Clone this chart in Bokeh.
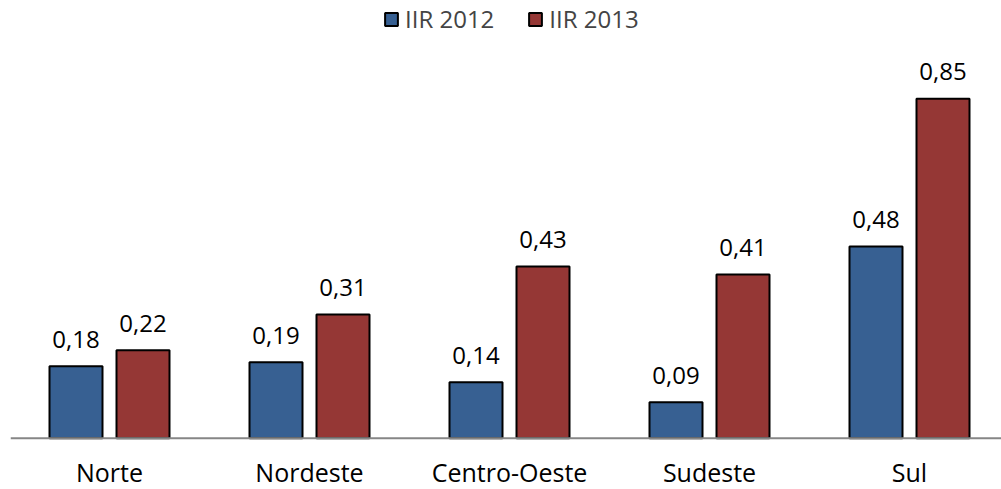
from bokeh.plotting import figure
from bokeh.models import Range1d, Legend, LegendItem, ColumnDataSource, Span
from bokeh.core.properties import value
from bokeh.embed import file_html
from bokeh.resources import INLINE

categories = ["Norte", "Nordeste", "Centro-Oeste", "Sudeste", "Sul"]
iir_2012 = [0.18, 0.19, 0.14, 0.09, 0.48]
iir_2013 = [0.22, 0.31, 0.43, 0.41, 0.85]
series_names = ["IIR 2012", "IIR 2013"]
colors = ["#376092", "#953735"]

FONT = "Open Sans"
offset = 0.1675
bar_w = 0.265

p = figure(width=1001, height=489, output_backend="svg", toolbar_location=None,
           x_range=Range1d(-0.495, 4.46), y_range=Range1d(-0.1285, 1.0962),
           min_border_left=10, min_border_right=0, min_border_top=0, min_border_bottom=0)
p.outline_line_color = None
p.grid.visible = False
p.axis.visible = False
p.background_fill_color = "white"

xs = list(range(len(categories)))

# baseline (category axis line)
p.add_layout(Span(location=0, dimension="width", line_color="#868686", line_width=2))

renderers = []
for vals, off, col in [(iir_2012, -offset, colors[0]), (iir_2013, offset, colors[1])]:
    src = ColumnDataSource(dict(x=[x + off for x in xs], top=vals,
                                lbl=[f"{v:.2f}".replace(".", ",") for v in vals]))
    r = p.vbar(x="x", top="top", bottom=0, width=bar_w, source=src,
               fill_color=col, line_color="black", line_width=2)
    renderers.append(r)
    p.text(x="x", y="top", text="lbl", source=src, text_align="center",
           text_baseline="alphabetic", y_offset=-27, text_font=value(FONT),
           text_font_size="24px", text_color="black")

cat_src = ColumnDataSource(dict(x=xs, y=[0] * len(xs), name=categories))
p.text(x="x", y="y", text="name", source=cat_src, text_align="center",
       text_baseline="middle", y_offset=34, text_font=value(FONT),
       text_font_size="25px", text_color="black")

legend = Legend(items=[LegendItem(label=series_names[i], renderers=[renderers[i]]) for i in range(2)],
                orientation="horizontal", location=(373, 454),
                glyph_width=16, glyph_height=16, label_standoff=6, spacing=33,
                padding=0, margin=0, border_line_color=None, background_fill_alpha=0,
                label_text_font=FONT, label_text_font_size="24px", label_height=16)
p.add_layout(legend)

open("out.html", "w").write(file_html(p, INLINE))
